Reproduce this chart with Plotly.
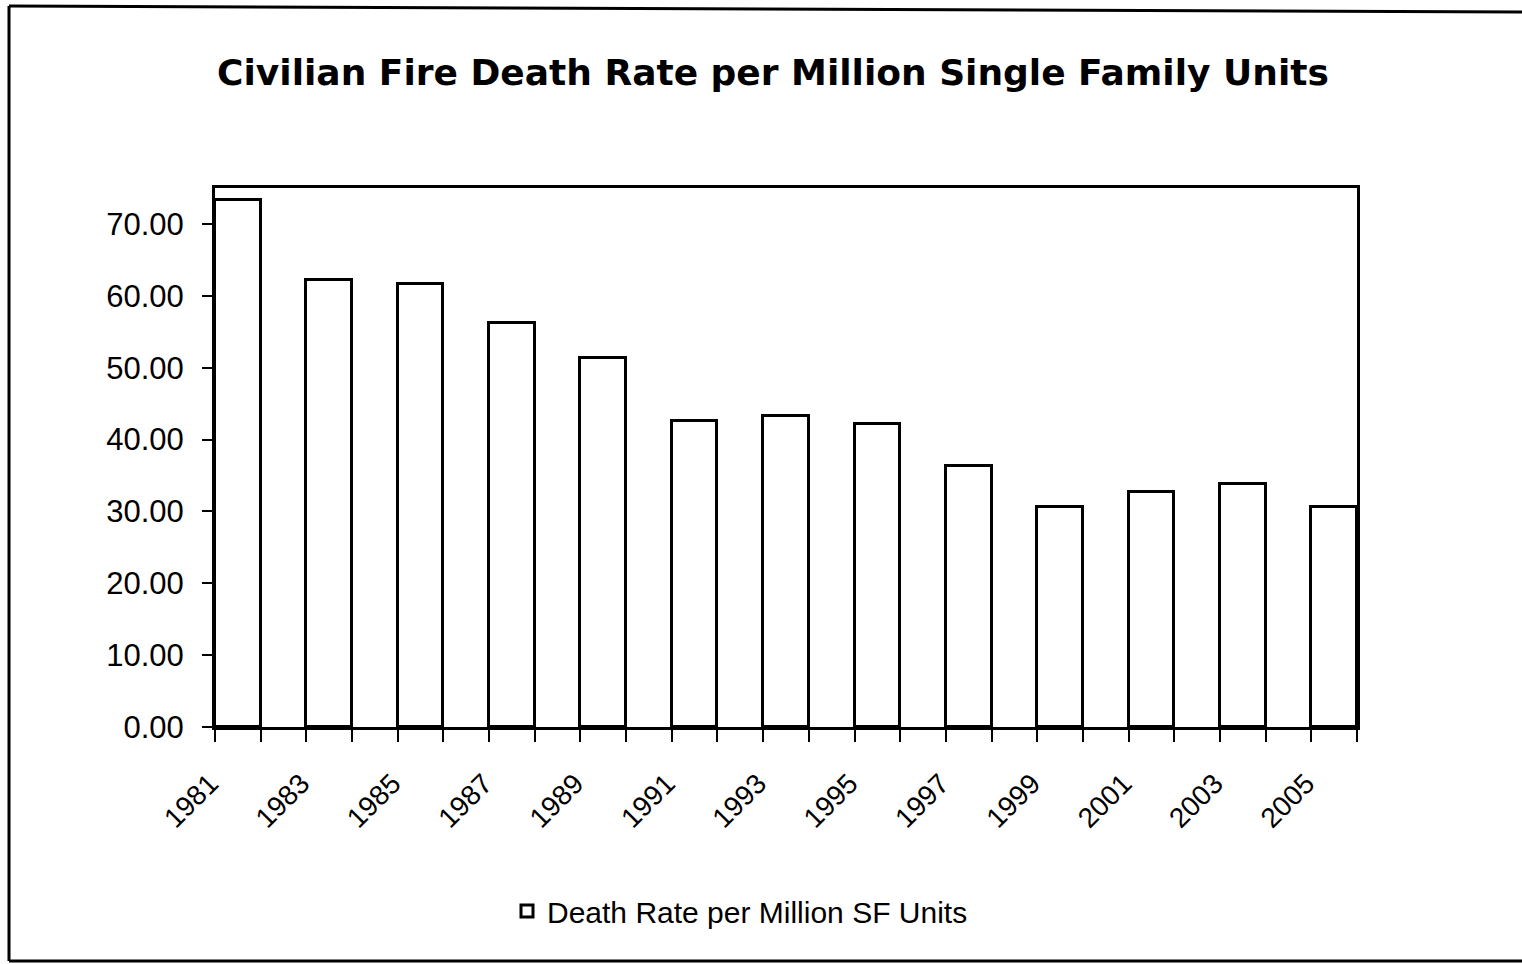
import plotly.graph_objects as go

# Civilian fire death rate per million single family units, odd years
years = [1981, 1983, 1985, 1987, 1989, 1991, 1993, 1995, 1997, 1999, 2001, 2003, 2005]
rates = [73.4, 62.2, 61.7, 56.2, 51.3, 42.6, 43.3, 42.2, 36.3, 30.6, 32.7, 33.8, 30.6]
tick_years = years
tick_text = [str(y) for y in tick_years]

W, H = 1522, 964
L, R, T, B = 215, 1522 - 1357, 188, 964 - 727
FONT = "Arial, Liberation Sans, sans-serif"
TITLE_FONT = "DejaVu Sans, Arial, sans-serif"


def px_x(px):
    return (px - L) / (W - L - R)


def px_y(py):
    return (H - B - py) / (H - T - B)


fig = go.Figure()
fig.add_trace(go.Bar(
    x=years,
    y=rates,
    width=1,
    offset=0,
    name="Death Rate per Million SF Units",
    marker=dict(color="white", line=dict(color="black", width=3)),
    showlegend=True,
))

fig.update_layout(
    width=W,
    height=H,
    margin=dict(l=L, r=R, t=T, b=B),
    paper_bgcolor="white",
    plot_bgcolor="white",
    font=dict(family=FONT, color="black"),
    title=dict(
        text="<b>Civilian Fire Death Rate per Million Single Family Units</b>",
        font=dict(family=TITLE_FONT, size=36, color="black"),
        x=px_x(773), xref="paper", xanchor="center",
        y=1 - 72 / H, yref="container", yanchor="middle",
    ),
    showlegend=True,
    legend=dict(
        x=px_x(740), xanchor="center",
        y=px_y(911), yanchor="middle",
        orientation="h",
        font=dict(family=FONT, size=30, color="black"),
        bgcolor="rgba(0,0,0,0)",
    ),
    bargap=0,
)

fig.update_xaxes(
    range=[1981, 2006],
    tickmode="array",
    tickvals=tick_years,
    ticktext=tick_text,
    tickangle=-45,
    ticks="outside",
    ticklen=12,
    tickwidth=2,
    tickcolor="black",
    tickfont=dict(family=FONT, size=28, color="black"),
    ticklabelstandoff=14,
    ticklabelshift=-5,
    minor=dict(tick0=1981, dtick=1, ticks="outside", ticklen=12, tickwidth=2, tickcolor="black"),
    showline=True, linecolor="black", linewidth=3, mirror=True,
    showgrid=False, zeroline=False,
)

fig.update_yaxes(
    range=[0, 75],
    tickmode="linear", tick0=0, dtick=10,
    tickformat=".2f",
    ticks="outside",
    ticklen=10,
    tickwidth=2,
    tickcolor="black",
    tickfont=dict(family=FONT, size=31, color="black"),
    ticklabelstandoff=12,
    showline=True, linecolor="black", linewidth=3, mirror=True,
    showgrid=False, zeroline=False,
)

# outer chart frame (right side runs off the page)
frame = dict(type="line", xref="paper", yref="paper", line=dict(color="black", width=3))
fig.add_shape(**frame, x0=px_x(9), x1=px_x(1530), y0=px_y(6), y1=px_y(12))
fig.add_shape(**frame, x0=px_x(9), x1=px_x(9), y0=px_y(6), y1=px_y(961))
fig.add_shape(**frame, x0=px_x(9), x1=px_x(1530), y0=px_y(961), y1=px_y(961))

fig.write_html("out.html")
